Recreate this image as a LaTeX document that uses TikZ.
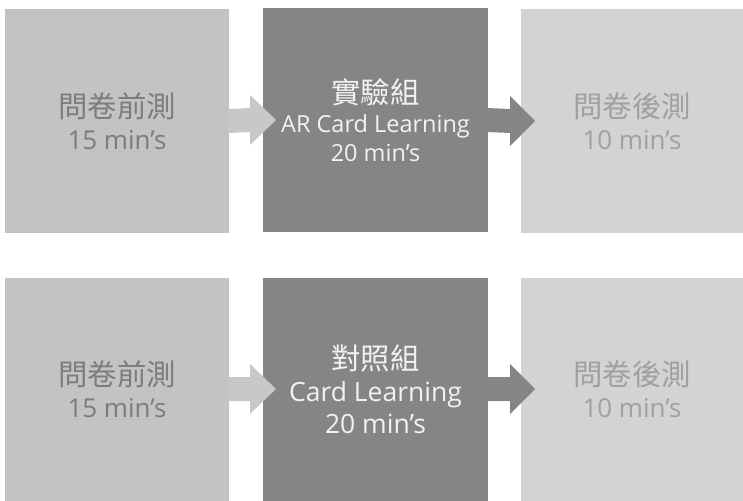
\documentclass[tikz,border=0pt]{standalone}
\usepackage{fontspec}
\setmainfont{Open Sans}
\newfontfamily\cjk{Noto Sans CJK TC}[Scale=1.13]
\usetikzlibrary{calc}
\definecolor{boxL}{HTML}{C3C3C3}
\definecolor{boxM}{HTML}{858583}
\definecolor{boxR}{HTML}{D3D3D3}
\definecolor{arrL}{HTML}{C8C8C8}
\definecolor{txtL}{HTML}{7C7C7C}
\definecolor{txtR}{HTML}{A0A0A0}
\definecolor{txtM}{HTML}{F2F2F2}
\tikzset{
  x=1pt, y=1pt,
  panel/.style={minimum height=223pt, inner sep=0pt, outer sep=0pt, align=center},
  leftbox/.style={panel, fill=boxL, text=txtL, minimum width=224pt, font=\fontsize{26}{32}\selectfont},
  midbox/.style={panel, fill=boxM, text=txtM, minimum width=225pt, font=\fontsize{23.5}{29}\selectfont},
  midboxB/.style={panel, fill=boxM, text=txtM, minimum width=225pt, font=\fontsize{26.5}{32}\selectfont},
  rightbox/.style={panel, fill=boxR, text=txtR, minimum width=222pt, font=\fontsize{26}{32}\selectfont},
}
\newcommand{\cjkM}[1]{{\fontsize{26}{29}\selectfont\cjk #1}}
\begin{document}
\begin{tikzpicture}
\useasboundingbox (0,0) rectangle (743,-500);
% top row
\node[leftbox]  (L1) at (117,-121) {{\cjk 問卷前測}\\15 min’s};
\node[midbox]   (M1) at (375.5,-120) {\cjkM{實驗組}\\AR Card Learning\\20 min\symbol{"0027}s};
\node[rightbox] (R1) at (632,-121) {{\cjk 問卷後測}\\10 min’s};
% bottom row
\node[leftbox]  (L2) at (117,-389) {{\cjk 問卷前測}\\15 min’s};
\node[midboxB]  (M2) at (375.5,-389) {\cjkM{對照組}\\Card Learning\\20 min’s};
\node[rightbox] (R2) at (632,-389) {{\cjk 問卷後測}\\10 min’s};
% arrows
\foreach \a/\b in {L1/M1, L2/M2}{
  \fill[arrL] ($(\a.east)+(-1,12)$) -- ($(\b.west)+(-13,12)$) -- ($(\b.west)+(-13,25)$)
    -- ($(\b.west)+(13,0)$) -- ($(\b.west)+(-13,-25)$) -- ($(\b.west)+(-13,-12)$)
    -- ($(\a.east)+(-1,-12)$) -- cycle;
}
\foreach \a/\b in {M1/R1, M2/R2}{
  \fill[boxM] ($(\a.east)+(-1,12)$) -- ($(\b.west)+(-11,12)$) -- ($(\b.west)+(-11,25)$)
    -- ($(\b.west)+(14,0)$) -- ($(\b.west)+(-11,-25)$) -- ($(\b.west)+(-11,-12)$)
    -- ($(\a.east)+(-1,-12)$) -- cycle;
}
\end{tikzpicture}
\end{document}
